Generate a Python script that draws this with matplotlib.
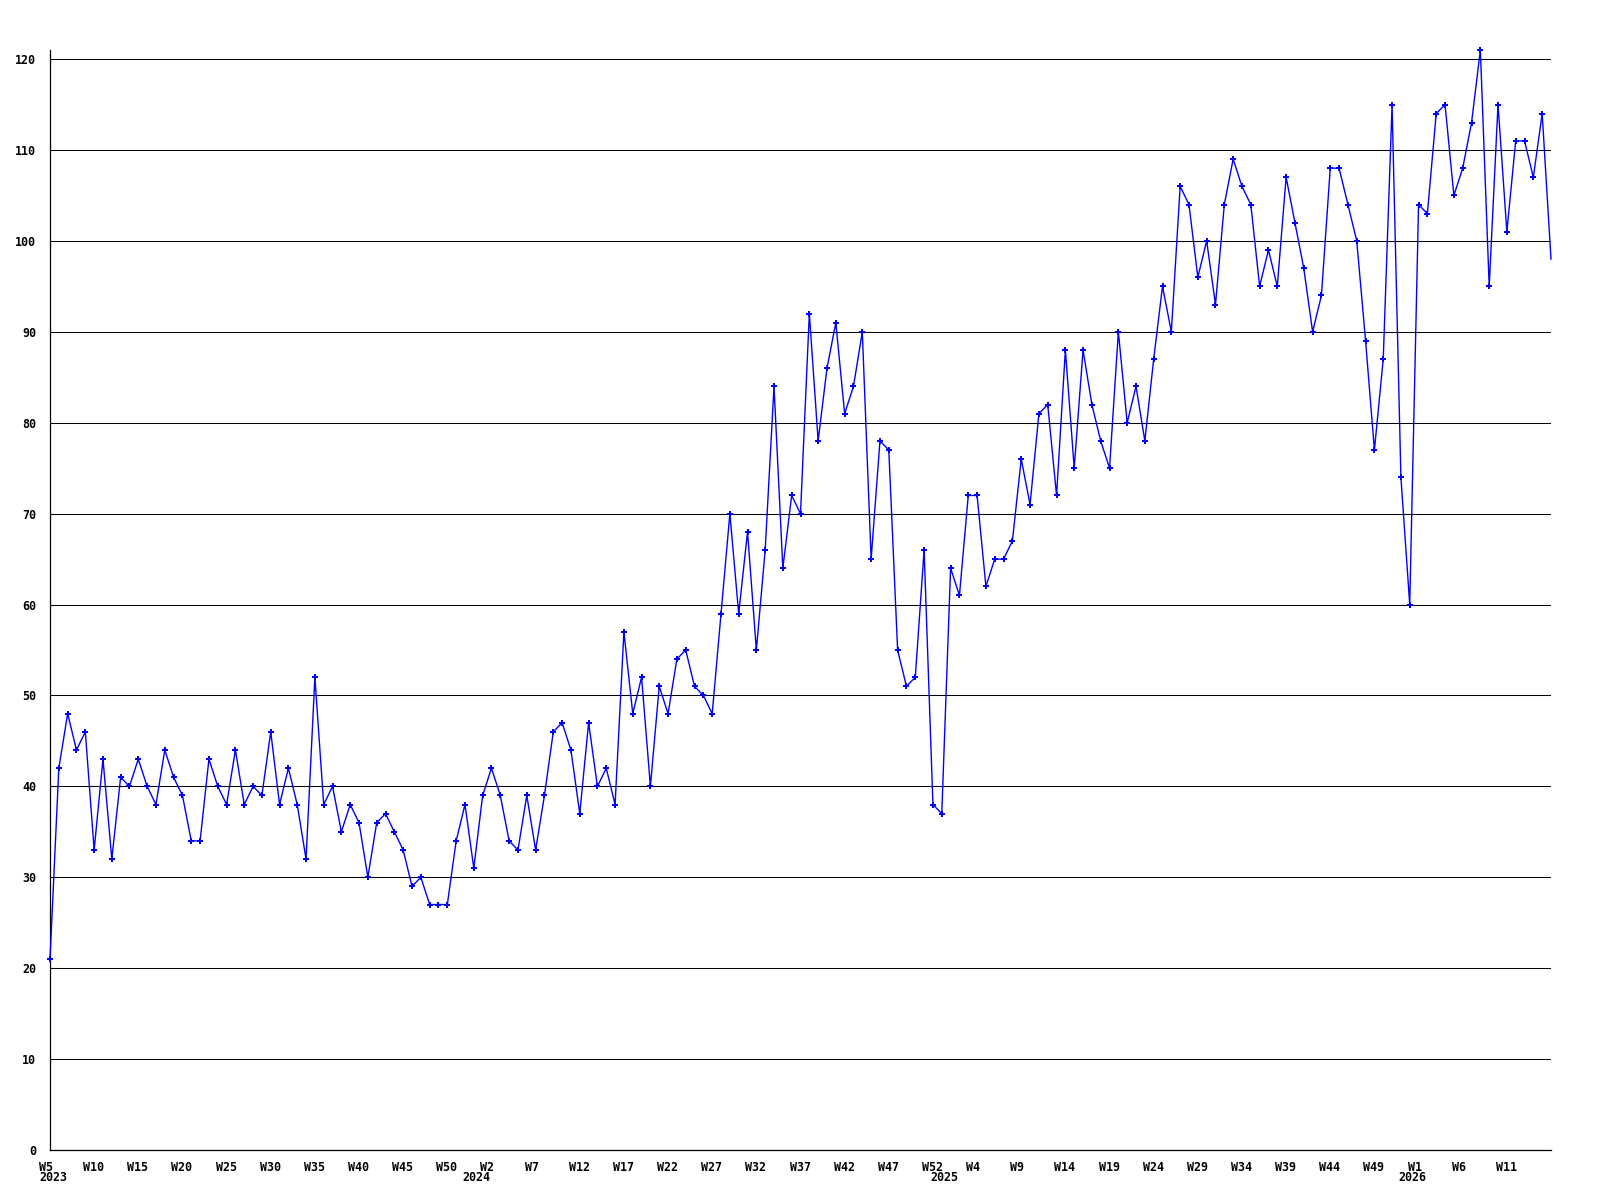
import matplotlib
matplotlib.use("Agg")
import matplotlib.pyplot as plt
import matplotlib.transforms as mtransforms
import numpy as np

# weekly counts, 2023 W5 .. 2026
values = [21, 42, 48, 44, 46, 33, 43, 32, 41, 40,
          43, 40, 38, 44, 41, 39, 34, 34, 43, 40,
          38, 44, 38, 40, 39, 46, 38, 42, 38, 32,
          52, 38, 40, 35, 38, 36, 30, 36, 37, 35,
          33, 29, 30, 27, 27, 27, 34, 38, 31, 39,
          42, 39, 34, 33, 39, 33, 39, 46, 47, 44,
          37, 47, 40, 42, 38, 57, 48, 52, 40, 51,
          48, 54, 55, 51, 50, 48, 59, 70, 59, 68,
          55, 66, 84, 64, 72, 70, 92, 78, 86, 91,
          81, 84, 90, 65, 78, 77, 55, 51, 52, 66,
          38, 37, 64, 61, 72, 72, 62, 65, 65, 67,
          76, 71, 81, 82, 72, 88, 75, 88, 82, 78,
          75, 90, 80, 84, 78, 87, 95, 90, 106, 104,
          96, 100, 93, 104, 109, 106, 104, 95, 99, 95,
          107, 102, 97, 90, 94, 108, 108, 104, 100, 89,
          77, 87, 115, 74, 60, 104, 103, 114, 115, 105,
          108, 113, 121, 95, 115, 101, 111, 111, 107, 114,
          98]

week_labels = ["W5", "W10", "W15", "W20", "W25", "W30", "W35", "W40", "W45", "W50",
               "W2", "W7", "W12", "W17", "W22", "W27", "W32", "W37", "W42", "W47",
               "W52", "W4", "W9", "W14", "W19", "W24", "W29", "W34", "W39", "W44",
               "W49", "W1", "W6", "W11"]
years = ["2023", "2024", "2025", "2026"]
year_pos = [0, 48, 101, 154]

font = dict(family="DejaVu Sans Mono", weight="bold", size=8.4)

fig = plt.figure(figsize=(16, 12), dpi=100)
ax = fig.add_axes([50 / 1600, 50 / 1200, 1501 / 1600, 1100 / 1200])

x = np.arange(len(values))
ax.plot(x, values, color="#0000ff", lw=1.0, marker="P", ms=4.6,
        mec="#0000ff", mew=0, markevery=slice(0, len(values) - 1),
        zorder=3, clip_on=False)

ax.set_xlim(0, len(values) - 1)
ax.set_ylim(0, max(values))

# horizontal grid
ax.set_yticks(np.arange(0, 121, 10))
ax.grid(axis="y", color="black", lw=0.75)
ax.set_axisbelow(True)
for s in ["top", "right"]:
    ax.spines[s].set_visible(False)
for s in ["left", "bottom"]:
    ax.spines[s].set_linewidth(0.9)

ax.tick_params(axis="both", length=0)
ax.tick_params(axis="y", pad=10)
ax.set_yticklabels([str(v) for v in range(0, 121, 10)], fontdict=font)

ax.set_xticks(x[:-1:5])
ax.set_xticklabels(week_labels, fontdict=font, ha="left", va="top")
ax.tick_params(axis="x", pad=8)
shift = mtransforms.ScaledTranslation(-11 / 100, 0, fig.dpi_scale_trans)
for lbl in ax.get_xticklabels():
    lbl.set_transform(lbl.get_transform() + shift)

# year row under the week labels
ytrans = ax.get_xaxis_transform() + mtransforms.ScaledTranslation(-11 / 100, -21 / 100, fig.dpi_scale_trans)
for yr, p in zip(years, year_pos):
    ax.text(p, 0, yr, transform=ytrans, ha="left", va="top", fontdict=font)

fig.savefig("out.png", dpi=100)
